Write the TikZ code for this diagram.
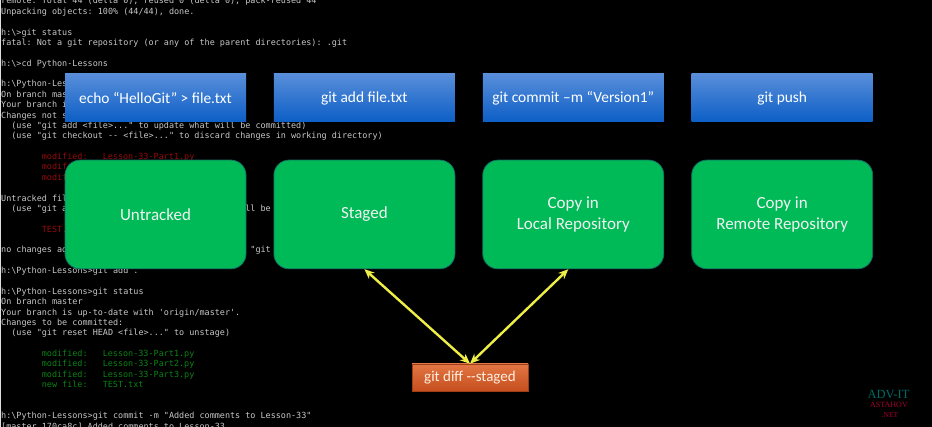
\documentclass[tikz,border=0pt]{standalone}
\usepackage{fontspec}
\setmainfont{Carlito}
\setmonofont{DejaVu Sans Mono}
\newfontfamily\logofont{Liberation Serif}
\usetikzlibrary{arrows.meta,positioning}
\definecolor{termgrey}{RGB}{200,200,200}
\definecolor{termred}{RGB}{150,10,10}
\definecolor{termgreen}{RGB}{10,130,20}
\definecolor{cmdtop}{RGB}{88,142,218}
\definecolor{cmdbot}{RGB}{12,94,198}
\definecolor{statefill}{RGB}{0,186,88}
\definecolor{stateline}{RGB}{20,110,100}
\definecolor{difftop}{RGB}{226,118,68}
\definecolor{diffbot}{RGB}{198,78,30}
\definecolor{arrowyel}{RGB}{238,238,70}
\definecolor{logoteal}{RGB}{0,105,100}
\definecolor{logored}{RGB}{165,0,45}
\tikzset{
  term/.style={anchor=base west, inner sep=0pt, font=\ttfamily\fontsize{8.45}{10}\selectfont},
  cmd/.style={minimum width=181pt, minimum height=48pt, inner sep=0pt,
    top color=cmdtop, bottom color=cmdbot, text=white, font=\fontsize{15.4}{18}\selectfont},
  gitstate/.style={minimum width=181pt, minimum height=108.7pt, inner sep=0pt,
    rounded corners=15pt, fill=statefill, draw=stateline, line width=0.8pt,
    text=white!95!black, align=center, font=\fontsize{17}{20.7}\selectfont},
  diffbox/.style={minimum width=116pt, minimum height=27.3pt, inner sep=0pt,
    top color=difftop, bottom color=diffbot, draw=diffbot!80!black, line width=0.5pt,
    text=white!88!orange, font=\fontsize{15}{18}\selectfont},
  link/.style={{Stealth[length=10pt,width=8.5pt]}-{Stealth[length=10pt,width=8.5pt]},
    draw=arrowyel, line width=2.4pt}
}
\begin{document}
\begin{tikzpicture}[x=1pt,y=-1pt]
  \useasboundingbox (0,0) rectangle (932,427);
  \fill[black] (0,0) rectangle (932,427);
  \draw[termgrey!60, line width=0.8pt] (0.4,0) -- (0.4,427);
  % console in the back
  \foreach \row/\col/\txt in {
      0/0/{remote: Total 44 (delta 0), reused 0 (delta 0), pack-reused 44},
      1/0/{Unpacking objects: 100\% (44/44), done.},
      3/0/{h:\textbackslash>git status},
      4/0/{fatal: Not a git repository (or any of the parent directories): .git},
      6/0/{h:\textbackslash>cd Python-Lessons},
      8/0/{h:\textbackslash{}Python-Lessons>git status},
      9/0/{On branch master},
      10/0/{Your branch is up-to-date with 'origin/master'.},
      11/0/{Changes not staged for commit:},
      12/2/{(use "git add <file>..." to update what will be committed)},
      13/2/{(use "git checkout -- <file>..." to discard changes in working directory)},
      19/0/{Untracked files:},
      20/2/{(use "git add <file>..." to include in what will be committed)},
      24/0/{no changes added to commit (use "git add" and/or "git commit -a")},
      26/0/{h:\textbackslash{}Python-Lessons>git add .},
      28/0/{h:\textbackslash{}Python-Lessons>git status},
      29/0/{On branch master},
      30/0/{Your branch is up-to-date with 'origin/master'.},
      31/0/{Changes to be committed:},
      32/2/{(use "git reset HEAD <file>..." to unstage)},
      40/0/{h:\textbackslash{}Python-Lessons>git commit -m "Added comments to Lesson-33"},
      41/0/{[master 170ca8c] Added comments to Lesson-33}}
    \node[term, text=termgrey] (t-\row-\col) at ({1+\col*5.08},{4+\row*10.37}) {\txt};
  \foreach \row/\col/\txt in {
      15/8/{modified:}, 15/20/{Lesson-33-Part1.py},
      16/8/{modified:}, 16/20/{Lesson-33-Part2.py},
      17/8/{modified:}, 17/20/{Lesson-33-Part3.py},
      22/8/{TEST.txt}}
    \node[term, text=termred] (t-\row-\col) at ({1+\col*5.08},{4+\row*10.37}) {\txt};
  \foreach \row/\col/\txt in {
      34/8/{modified:}, 34/20/{Lesson-33-Part1.py},
      35/8/{modified:}, 35/20/{Lesson-33-Part2.py},
      36/8/{modified:}, 36/20/{Lesson-33-Part3.py},
      37/8/{new file:}, 37/20/{TEST.txt}}
    \node[term, text=termgreen] (t-\row-\col) at ({1+\col*5.08},{4+\row*10.37}) {\txt};
  % commands
  \node[cmd] (cmdecho) at (155.5,98) {echo “HelloGit” > file.txt};
  \node[cmd, right=27.5pt of cmdecho] (cmdadd) {git add file.txt};
  \node[cmd, right=27.5pt of cmdadd] (cmdcommit) {git commit –m “Version1”};
  \node[cmd, right=27.5pt of cmdcommit] (cmdpush) {git push};
  % states
  \node[gitstate, below=37.5pt of cmdecho] (untracked) {Untracked};
  \node[gitstate, below=37.5pt of cmdadd] (staged) {Staged};
  \node[gitstate, below=37.5pt of cmdcommit] (local) {Copy in\\Local Repository};
  \node[gitstate, below=37.5pt of cmdpush] (remote) {Copy in\\Remote Repository};
  \node[diffbox] (diff) at (470,377.6) {git diff -{}-staged};
  \draw[link] (staged.south) -- (diff.north);
  \draw[link] ([xshift=-5pt]local.south) -- (diff.north);
  % logo
  \node[inner sep=0pt, text=logoteal, font=\logofont\fontsize{12.5}{14}\selectfont] (logoa) at (888.5,394) {ADV-IT};
  \node[inner sep=0pt, text=logored, font=\logofont\fontsize{8}{9}\selectfont] (logob) at (889,405.3) {ASTAHOV};
  \node[inner sep=0pt, text=logored, font=\logofont\fontsize{7.6}{9}\selectfont] (logoc) at (890,415) {.NET};
\end{tikzpicture}
\end{document}
